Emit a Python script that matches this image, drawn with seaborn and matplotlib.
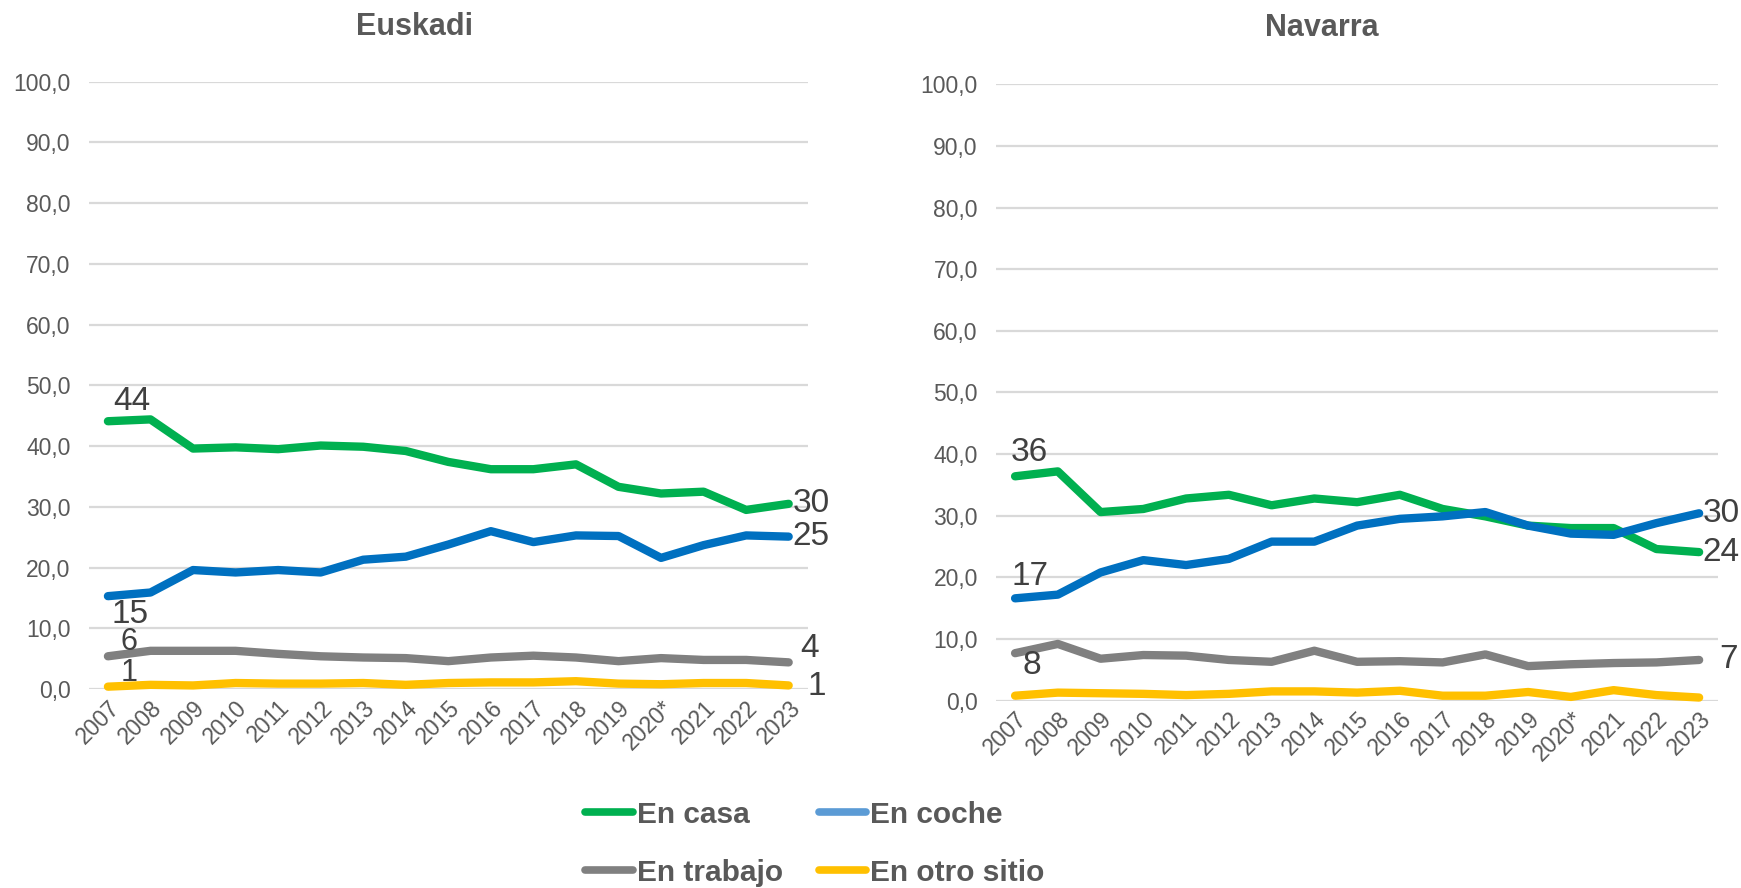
import pandas as pd
import numpy as np
import matplotlib
matplotlib.use('Agg')
import matplotlib.pyplot as plt
import seaborn as sns

# Datos
anios = ['2007', '2008', '2009', '2010', '2011', '2012', '2013', '2014', '2015',
         '2016', '2017', '2018', '2019', '2020*', '2021', '2022', '2023']
series = ['En casa', 'En coche', 'En trabajo', 'En otro sitio']

eus_casa = [44.1, 44.4, 39.6, 39.8, 39.5, 40.1, 39.9, 39.2, 37.4, 36.2, 36.2, 37.0, 33.3, 32.2, 32.5, 29.5, 30.5]
eus_coche = [15.3, 15.9, 19.6, 19.2, 19.6, 19.2, 21.3, 21.8, 23.8, 26.0, 24.2, 25.3, 25.2, 21.6, 23.7, 25.3, 25.1]
eus_trabajo = [5.4, 6.3, 6.3, 6.3, 5.8, 5.4, 5.2, 5.1, 4.6, 5.2, 5.5, 5.2, 4.6, 5.1, 4.8, 4.8, 4.4]
eus_otro = [0.4, 0.7, 0.6, 1.0, 0.9, 0.9, 1.0, 0.7, 1.0, 1.1, 1.1, 1.3, 0.9, 0.8, 1.0, 1.0, 0.6]

nav_casa = [36.4, 37.2, 30.6, 31.1, 32.8, 33.4, 31.7, 32.8, 32.2, 33.4, 31.1, 29.9, 28.4, 28.0, 28.0, 24.6, 24.1]
nav_coche = [16.6, 17.2, 20.8, 22.8, 22.0, 23.0, 25.8, 25.8, 28.4, 29.5, 29.9, 30.6, 28.4, 27.1, 26.9, 28.8, 30.4]
nav_trabajo = [7.7, 9.2, 6.8, 7.4, 7.3, 6.6, 6.3, 8.1, 6.3, 6.4, 6.2, 7.5, 5.6, 5.9, 6.1, 6.2, 6.6]
nav_otro = [0.8, 1.3, 1.2, 1.1, 0.9, 1.1, 1.5, 1.5, 1.3, 1.6, 0.8, 0.8, 1.4, 0.6, 1.7, 0.9, 0.5]

colores = {'En casa': '#00B050', 'En coche': '#0070C0', 'En trabajo': '#808080', 'En otro sitio': '#FFC000'}

def a_largo(valores):
    filas = []
    for nombre, vals in zip(series, valores):
        for a, v in zip(anios, vals):
            filas.append({'Año': a, 'Serie': nombre, 'Valor': v})
    return pd.DataFrame(filas)

df_eus = a_largo([eus_casa, eus_coche, eus_trabajo, eus_otro])
df_nav = a_largo([nav_casa, nav_coche, nav_trabajo, nav_otro])

sns.set_theme(style='white')
plt.rcParams['font.family'] = ['Liberation Sans', 'DejaVu Sans']

fig = plt.figure(figsize=(17.41, 8.88), dpi=100)
ax1 = fig.add_axes([0.051, 0.224, 0.413, 0.684])
ax2 = fig.add_axes([0.572, 0.211, 0.415, 0.694])

gris = '#595959'
etiqueta = '#404040'

for ax, df in [(ax1, df_eus), (ax2, df_nav)]:
    sns.lineplot(data=df, x='Año', y='Valor', hue='Serie', palette=colores,
                 linewidth=6, ax=ax, legend=False, sort=False)
    for l in ax.lines:
        l.set_solid_capstyle('round')
        l.set_clip_on(False)
    ax.set_ylim(0, 100)
    ax.set_xlim(-0.45, 16.45)
    ax.set_yticks(np.arange(0, 101, 10))
    ax.set_yticklabels([f'{v},0' for v in range(0, 101, 10)])
    ax.grid(axis='y', color='#D9D9D9', linewidth=1.6)
    ax.set_axisbelow(True)
    for s in ax.spines.values():
        s.set_visible(False)
    ax.set_xlabel('')
    ax.set_ylabel('')
    ax.tick_params(axis='y', labelsize=16.5, labelcolor=gris, length=0, pad=13)
    ax.tick_params(axis='x', labelsize=16.5, labelcolor=gris, length=0, pad=5)
    for t in ax.get_xticklabels():
        t.set_rotation(45)
        t.set_ha('right')
        t.set_rotation_mode('anchor')

def etiquetar(ax, i, valor, texto, dx, dy, tam=24):
    ax.annotate(texto, (i, valor), xytext=(dx, dy), textcoords='offset points',
                ha='center', va='center', fontsize=tam, color=etiqueta)

# Euskadi
etiquetar(ax1, 0, eus_casa[0], '44', 17, 14)
etiquetar(ax1, 0, eus_coche[0], '15', 16, -13)
etiquetar(ax1, 0, eus_trabajo[0], '6', 15, 10, 22)
etiquetar(ax1, 0, eus_otro[0], '1', 15, 10, 22)
etiquetar(ax1, 16, eus_casa[-1], '30', 16, 0)
etiquetar(ax1, 16, eus_coche[-1], '25', 16, 0)
etiquetar(ax1, 16, eus_trabajo[-1], '4', 15, 10)
etiquetar(ax1, 16, eus_otro[-1], '1', 20, -1)

# Navarra
etiquetar(ax2, 0, nav_casa[0], '36', 10, 17)
etiquetar(ax2, 0, nav_coche[0], '17', 11, 16)
etiquetar(ax2, 0, nav_trabajo[0], '8', 12, -9)
etiquetar(ax2, 16, nav_coche[-1], '30', 16, 0)
etiquetar(ax2, 16, nav_casa[-1], '24', 16, 0)
etiquetar(ax2, 16, nav_trabajo[-1], '7', 21, 0)

fig.text(0.238, 0.97, 'Euskadi', ha='center', va='center', fontsize=22,
         fontweight='bold', color=gris)
fig.text(0.759, 0.968, 'Navarra', ha='center', va='center', fontsize=22,
         fontweight='bold', color=gris)

# Leyenda (el azul de la leyenda es más claro que la línea)
colores_leyenda = {'En casa': '#00B050', 'En coche': '#5B9BD5', 'En trabajo': '#808080', 'En otro sitio': '#FFC000'}
labels = ['En casa', 'En trabajo', 'En coche', 'En otro sitio']
handles = [plt.Line2D([], [], color=colores_leyenda[s], linewidth=5.5, solid_capstyle='round')
           for s in labels]
leg = fig.legend(handles, labels, loc='center', bbox_to_anchor=(0.468, 0.05), ncol=2,
                 frameon=False, fontsize=21.5, handlelength=1.6, handletextpad=0.12,
                 columnspacing=1.2, labelspacing=1.0)
for t in leg.get_texts():
    t.set_color(gris)
    t.set_fontweight('bold')

fig.savefig('out.png', dpi=100)
